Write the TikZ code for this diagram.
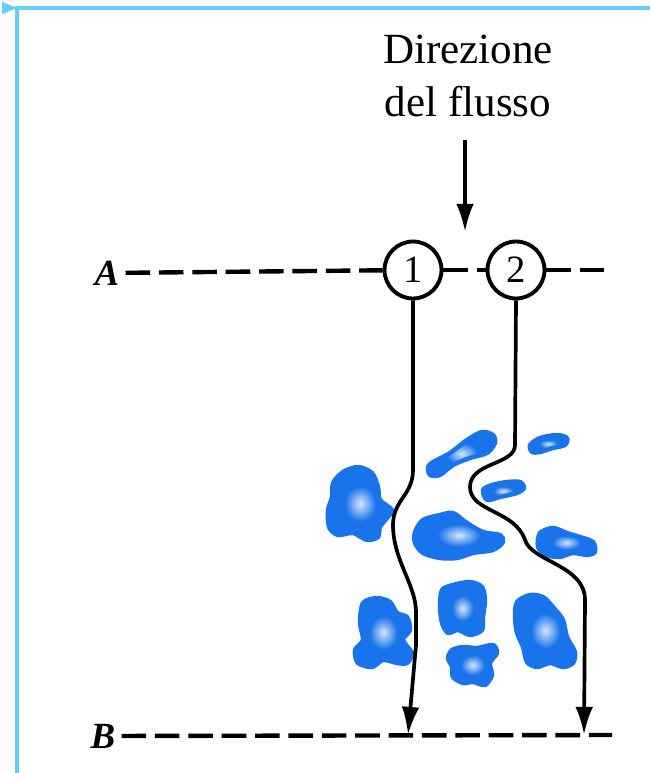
\documentclass[tikz,border=0pt]{standalone}
\usepackage{fontspec}
\setmainfont{Liberation Serif}
\usetikzlibrary{arrows.meta}
\definecolor{frameblue}{RGB}{102,204,255}
\definecolor{grainblue}{RGB}{25,115,235}
\pgfdeclareradialshading{grainshade}{\pgfpoint{0bp}{0bp}}{color(0bp)=(grainblue!18!white); color(12bp)=(grainblue); color(50bp)=(grainblue)}
\tikzstyle{station}=[circle,draw,line width=2.2pt,minimum size=1.14cm,inner sep=0pt,font=\fontsize{22}{22}\selectfont]
\tikzstyle{level}=[font=\fontsize{21}{21}\selectfont\bfseries\itshape]
\tikzstyle{datum}=[line width=2.5pt,dash pattern=on 14pt off 5pt]
\tikzstyle{stream}=[line width=2.1pt,-{Latex[length=16pt,width=10pt]}]
\tikzstyle{grain}=[shading=grainshade,draw=grainblue,line width=2.5pt,line join=round]

\begin{document}
\begin{tikzpicture}[x=0.02cm,y=-0.02cm]
\useasboundingbox (0,0) rectangle (650,773);
% frame
\draw[frameblue,line width=2.5pt] (17,773) -- (17,8) -- (650,8);
\fill[frameblue] (2,2) -- (17,8) -- (2,14) -- cycle;

% solid grains
\shadedraw[grain] plot[smooth cycle] coordinates {(333,483) (343,472) (358,467) (372,473) (378,487) (380,500) (392,510) (387,518) (380,527) (378,537) (367,540) (353,533) (338,535) (329,527) (328,510) (332,497)};
\shadedraw[grain] plot[smooth cycle] coordinates {(428,467) (433,462) (450,453) (467,440) (482,432) (493,435) (495,443) (487,453) (470,458) (453,465) (440,475) (430,475)};
\shadedraw[grain] plot[smooth cycle] coordinates {(530,445) (540,438) (557,435) (567,438) (565,445) (553,448) (540,452) (532,452)};
\shadedraw[grain] plot[smooth cycle] coordinates {(483,490) (492,485) (507,482) (520,482) (524,488) (517,493) (500,497) (487,500)};
\shadedraw[grain] plot[smooth cycle] coordinates {(415,532) (423,520) (440,515) (453,513) (467,523) (483,532) (500,535) (503,542) (493,550) (473,553) (457,558) (440,558) (423,553) (415,543)};
\shadedraw[grain] plot[smooth cycle] coordinates {(540,533) (553,528) (567,533) (580,537) (593,542) (595,552) (587,555) (573,553) (560,557) (547,555) (538,547)};
\shadedraw[grain] plot[smooth cycle] coordinates {(363,603) (377,598) (390,602) (397,613) (407,617) (410,630) (403,640) (412,653) (407,663) (397,663) (383,660) (372,667) (358,663) (355,650) (363,640) (360,623)};
\shadedraw[grain] plot[smooth cycle] coordinates {(442,590) (453,585) (470,582) (482,587) (485,600) (483,617) (482,630) (470,635) (458,630) (448,633) (442,623) (440,607)};
\shadedraw[grain] plot[smooth cycle] coordinates {(452,650) (463,647) (477,648) (493,645) (497,653) (490,663) (492,675) (485,685) (473,682) (463,683) (453,677) (452,667) (448,658)};
\shadedraw[grain] plot[smooth cycle] coordinates {(517,602) (530,595) (543,597) (553,607) (563,620) (567,637) (575,652) (573,663) (563,667) (550,663) (537,667) (527,662) (523,647) (517,633) (515,617)};

% labels and stations
\node[align=center,font=\fontsize{24.5}{30}\selectfont] at (468,76) (title) {Direzione\\del flusso};
\node[level] at (107,273) (A) {A};
\node[level] at (103,736) (B) {B};
\node[station] at (413,270) (c1) {1};
\node[station] at (516,270) (c2) {2};
\coordinate (Aend) at (612,270);
\coordinate (Bend) at (612,735);
\coordinate (b1) at (408,735);
\coordinate (b2) at (584,735);
\coordinate (fin) at (465,140);
\coordinate (fout) at (465,232);

% datum lines
\draw[datum] (A) -- (c1);
\draw[datum] (c1) -- (c2);
\draw[datum] (c2) -- (Aend);
\draw[datum] (B) -- (Bend);

% flow
\draw[stream] (fin) -- (fout);
\draw[stream] (c1.south) -- (413,470) .. controls (413,495) and (393,500) .. (393,525) .. controls (393,560) and (416,585) .. (416,612) -- (416,645) -- (b1);
\draw[stream] (c2.south) -- (515,445) .. controls (515,465) and (470,462) .. (470,487) .. controls (470,512) and (515,510) .. (525,540) .. controls (532,562) and (585,565) .. (585,600) -- (b2);
\end{tikzpicture}
\end{document}
